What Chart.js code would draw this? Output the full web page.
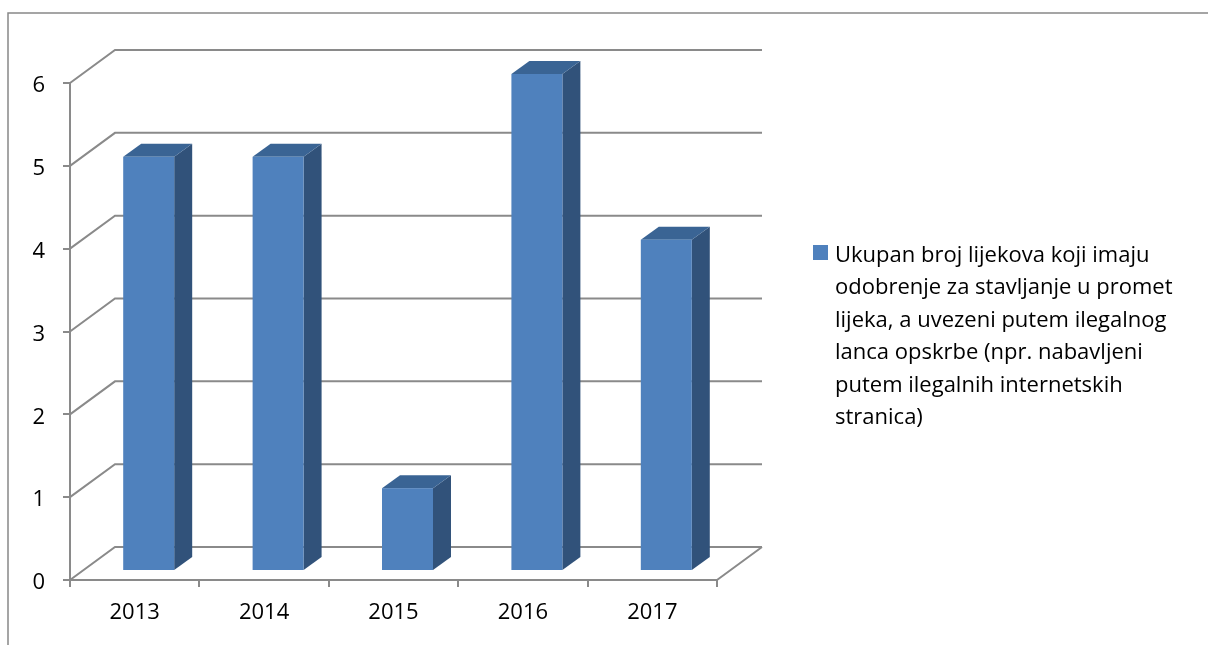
<!DOCTYPE html>
<html>
<head>
<meta charset="utf-8">
<script src="https://cdn.jsdelivr.net/npm/chart.js"></script>
<style>
  html, body { margin: 0; padding: 0; background: #fff; }
  canvas { display: block; }
</style>
</head>
<body>
<canvas id="chart" width="1208" height="645"></canvas>
<script>
// data
const years = ['2013', '2014', '2015', '2016', '2017'];
const counts = [5, 5, 1, 6, 4];
const yTicks = [0, 1, 2, 3, 4, 5, 6];
const legendLines = [
  'Ukupan broj lijekova koji imaju',
  'odobrenje za stavljanje u promet',
  'lijeka, a uvezeni putem ilegalnog',
  'lanca opskrbe (npr. nabavljeni',
  'putem ilegalnih internetskih',
  'stranica)'
];

const FONT = '"Open Sans", Lato, sans-serif';
const GRID = '#8a8a8a';
const FRONT = '#4F81BD', TOP = '#3A6494', SIDE = '#31527A';
// depth of the 3d box (back wall offset) and of each bar inside it
const WALL_DX = 45, WALL_DY = 33;
const BAR_OX = 14, BAR_OY = 9, BAR_DX = 18, BAR_DY = 13;

const fake3d = {
  id: 'fake3d',
  beforeDraw(chart) {
    const ctx = chart.ctx;
    ctx.save();
    ctx.strokeStyle = '#888';
    ctx.lineWidth = 1.5;
    ctx.beginPath();
    ctx.moveTo(8, 700);
    ctx.lineTo(8, 13);
    ctx.lineTo(1300, 13);
    ctx.stroke();
    ctx.restore();
  },
  beforeDatasetsDraw(chart) {
    const ctx = chart.ctx;
    const a = chart.chartArea;
    const y = chart.scales.y;

    // walls: diagonal + back gridline for every tick
    ctx.save();
    ctx.strokeStyle = GRID;
    ctx.lineWidth = 2;
    ctx.beginPath();
    yTicks.forEach(v => {
      const py = y.getPixelForValue(v);
      ctx.moveTo(a.left, py);
      ctx.lineTo(a.left + WALL_DX, py - WALL_DY);
      ctx.lineTo(a.right + WALL_DX, py - WALL_DY);
    });
    // floor right edge
    const p0 = y.getPixelForValue(0);
    ctx.moveTo(a.right, p0);
    ctx.lineTo(a.right + WALL_DX, p0 - WALL_DY);
    ctx.stroke();

    // bars
    chart.data.datasets.forEach((ds, di) => {
      const meta = chart.getDatasetMeta(di);
      meta.data.forEach(el => {
        const p = el.getProps(['x', 'y', 'base', 'width'], true);
        const x0 = p.x - p.width / 2 + BAR_OX;
        const x1 = x0 + p.width;
        const yt = p.y - BAR_OY;
        const yb = p.base - BAR_OY;

        ctx.fillStyle = SIDE;
        ctx.beginPath();
        ctx.moveTo(x1, yt);
        ctx.lineTo(x1 + BAR_DX, yt - BAR_DY);
        ctx.lineTo(x1 + BAR_DX, yb - BAR_DY);
        ctx.lineTo(x1, yb);
        ctx.closePath();
        ctx.fill();

        ctx.fillStyle = TOP;
        ctx.beginPath();
        ctx.moveTo(x0, yt);
        ctx.lineTo(x0 + BAR_DX, yt - BAR_DY);
        ctx.lineTo(x1 + BAR_DX, yt - BAR_DY);
        ctx.lineTo(x1, yt);
        ctx.closePath();
        ctx.fill();

        ctx.fillStyle = ds.backgroundColor;
        ctx.fillRect(x0, yt, p.width, yb - yt);
      });
    });
    ctx.restore();
    return false;
  },
  afterDraw(chart) {
    const ctx = chart.ctx;
    ctx.save();
    ctx.fillStyle = FRONT;
    ctx.fillRect(813, 245, 15, 15);
    ctx.fillStyle = '#000';
    ctx.font = '22px ' + FONT;
    ctx.textBaseline = 'alphabetic';
    ctx.textAlign = 'left';
    legendLines.forEach((line, i) => {
      ctx.fillText(line, 835, 262 + i * 32.4);
    });
    ctx.restore();
  }
};

new Chart(document.getElementById('chart'), {
  type: 'bar',
  data: {
    labels: years,
    datasets: [{
      label: legendLines.join(' '),
      data: counts,
      backgroundColor: FRONT,
      barPercentage: 0.394,
      categoryPercentage: 1
    }]
  },
  options: {
    responsive: false,
    animation: false,
    events: [],
    layout: { padding: { top: 83, right: 491, bottom: 0, left: 0 } },
    plugins: { legend: { display: false }, tooltip: { enabled: false } },
    scales: {
      x: {
        afterFit: s => { s.height = 65; },
        grid: { drawOnChartArea: false, drawTicks: true, tickLength: 7, color: GRID, lineWidth: 2 },
        border: { display: true, color: GRID, width: 2 },
        ticks: { color: '#000', font: { family: FONT, size: 22 }, padding: 13, maxRotation: 0 }
      },
      y: {
        min: 0,
        max: 6,
        afterFit: s => { s.width = 70; },
        afterBuildTicks: s => { s.ticks = yTicks.map(v => ({ value: v })); },
        grid: { drawOnChartArea: false, drawTicks: true, tickLength: 7, color: GRID, lineWidth: 2 },
        border: { display: true, color: GRID, width: 2 },
        ticks: { color: '#000', font: { family: FONT, size: 22 }, padding: 18, labelOffset: 3 }
      }
    }
  },
  plugins: [fake3d]
});
</script>
</body>
</html>
